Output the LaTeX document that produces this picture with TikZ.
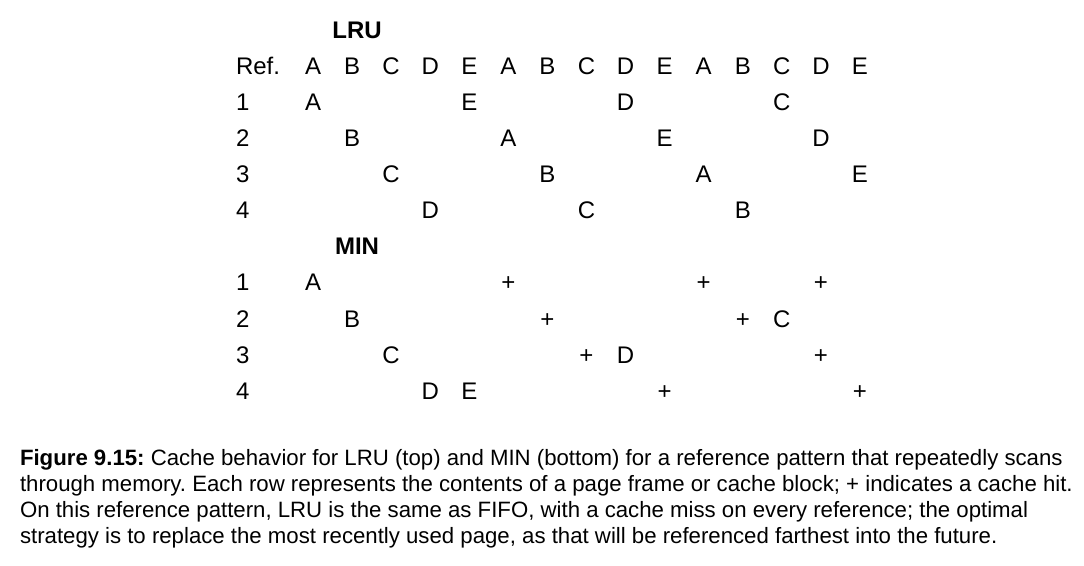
\documentclass[tikz,border=0pt]{standalone}
\usepackage{fontspec}
\setmainfont{Liberation Sans}
\frenchspacing
\begin{document}
\begin{tikzpicture}[x=0.75pt,y=-0.75pt,
  every node/.style={inner sep=0pt,outer sep=0pt},
  cell/.style={anchor=base,font=\fontsize{18}{21}\selectfont},
  rowlabel/.style={anchor=base west,font=\fontsize{18}{21}\selectfont},
  tabletitle/.style={anchor=base,font=\fontsize{18}{21}\selectfont\bfseries},
  captionline/.style={anchor=base west,font=\fontsize{16.65}{20}\selectfont}]
\useasboundingbox (0,0) rectangle (1084,566);
% column centres: 313 + 39.07*(i-1); row baselines: 39 + 36*k
\def\colx#1{313+39.07*(#1-1)}
% ---- LRU ----
\node[tabletitle] (lrutitle) at (357,39) {LRU};
\node[rowlabel] (lruref) at (236,75) {Ref.};
\foreach \c [count=\i] in {A,B,C,D,E,A,B,C,D,E,A,B,C,D,E}
  \node[cell] (ref\i) at ({\colx{\i}},75) {\c};
\foreach \r in {1,2,3,4}
  \node[rowlabel] (lrurow\r) at (236,{75+36*\r}) {\r};
\foreach \r/\i/\c in {1/1/A,1/5/E,1/9/D,1/13/C,
                      2/2/B,2/6/A,2/10/E,2/14/D,
                      3/3/C,3/7/B,3/11/A,3/15/E,
                      4/4/D,4/8/C,4/12/B}
  \node[cell] (lru-\r-\i) at ({\colx{\i}},{75+36*\r}) {\c};
% ---- MIN ----
\node[tabletitle] (mintitle) at (357,255) {MIN};
\foreach \r in {1,2,3,4}
  \node[rowlabel] (minrow\r) at (236,{255+36*\r}) {\r};
\foreach \r/\i/\c in {1/1/A,1/6/+,1/11/+,1/14/+,
                      2/2/B,2/7/+,2/12/+,2/13/C,
                      3/3/C,3/8/+,3/9/D,3/14/+,
                      4/4/D,4/5/E,4/10/+,4/15/+}
  \node[cell] (min-\r-\i) at ({\colx{\i}},{255+36*\r}) {\c};
% ---- caption ----
\node[captionline] (cap1) at (20,465) {\textbf{Figure 9.15:} Cache behavior for LRU (top) and MIN (bottom) for a reference pattern that repeatedly scans};
\node[captionline] (cap2) at (20,491) {through memory. Each row represents the contents of a page frame or cache block; + indicates a cache hit.};
\node[captionline] (cap3) at (20,517) {On this reference pattern, LRU is the same as FIFO, with a cache miss on every reference; the optimal};
\node[captionline] (cap4) at (20,543) {strategy is to replace the most recently used page, as that will be referenced farthest into the future.};
\end{tikzpicture}
\end{document}
